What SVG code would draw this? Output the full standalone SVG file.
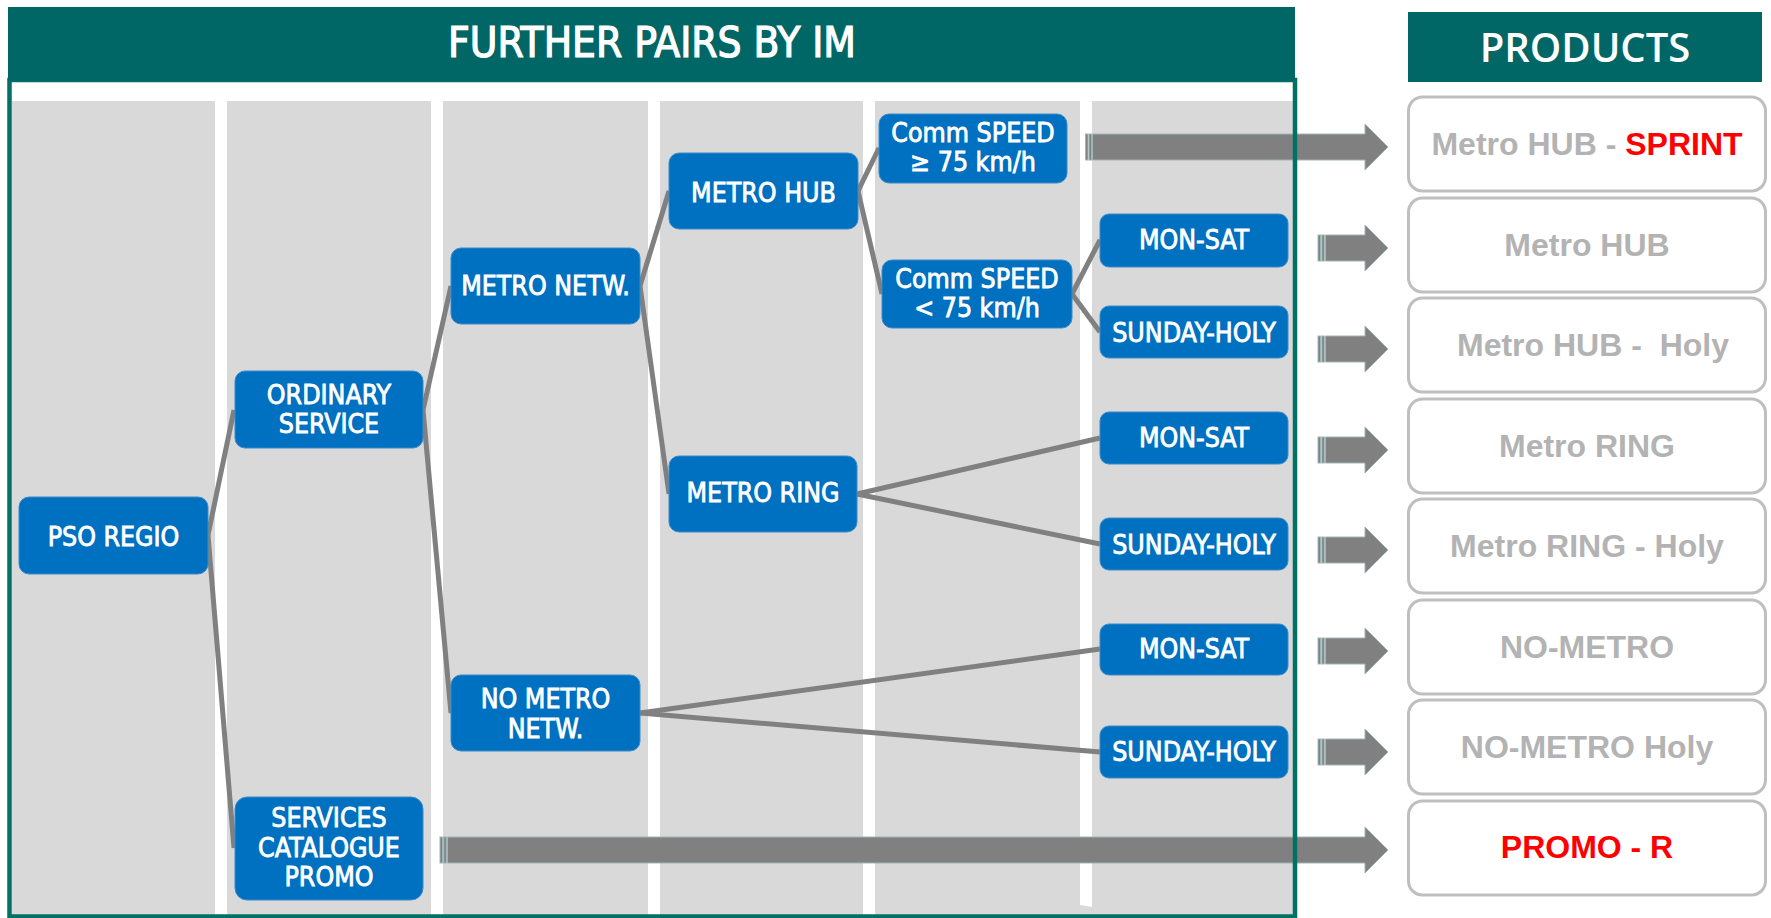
<svg xmlns="http://www.w3.org/2000/svg" xmlns:xlink="http://www.w3.org/1999/xlink" width="1771" height="918" viewBox="0 0 1771 918">
  <style>
    .col { fill: #d9d9d9; }
    .head { fill: #006666; }
    .headText { fill: #ffffff; text-anchor: middle; }
    .node rect { fill: #0070c0; stroke: #3a8ccc; stroke-width: 1; }
    .node text { fill: #ffffff; stroke: #ffffff; stroke-width: 0.8; font-family: "DejaVu Sans Condensed", "DejaVu Sans", sans-serif; font-stretch: condensed; font-size: 26.5px; text-anchor: middle; }
    .link { stroke: #808080; stroke-width: 5; fill: none; }
    .arrow { fill: #808080; stroke: #9fb6b6; stroke-width: 1; }
    .prod rect { fill: #ffffff; stroke: #bfbfbf; stroke-width: 3; }
    .prod text { fill: #b3b3b3; font-family: "Liberation Sans", Arial, sans-serif; font-weight: bold; font-size: 32px; text-anchor: middle; white-space: pre; }
    .prod .red { fill: #ff0000; }
  </style>
  <defs>
    <!-- short block arrow from the last column to a product box, centred on y=0 -->
    <g id="shortArrow">
      <rect class="arrow" x="1318" y="-13" width="2.5" height="26"/>
      <rect class="arrow" x="1321.8" y="-13" width="2.5" height="26"/>
      <path class="arrow" d="M1325.5,-13 H1365 V-23 L1388,0 L1365,23 V13 H1325.5 Z"/>
    </g>
  </defs>

  <rect width="1771" height="918" fill="#ffffff"/>

  <!-- level columns -->
  <g id="columns">
    <rect class="col" x="12" y="101" width="203" height="814"/>
    <rect class="col" x="227" y="101" width="204" height="814"/>
    <rect class="col" x="443" y="101" width="205" height="814"/>
    <rect class="col" x="660" y="101" width="203" height="814"/>
    <rect class="col" x="875" y="101" width="205" height="814"/>
    <rect class="col" x="1092" y="101" width="202" height="814"/>
    <polygon class="col" points="1080,905 1092,907 1092,915 1080,915"/>
  </g>

  <!-- long arrows -->
  <g id="longArrows">
    <rect class="arrow" x="1085.5" y="134" width="2.5" height="26"/>
    <rect class="arrow" x="1089" y="134" width="2.5" height="26"/>
    <path class="arrow" d="M1092.5,134 H1365 V124 L1388,147 L1365,170 V160 H1092.5 Z"/>
    <rect class="arrow" x="440" y="837" width="2.5" height="26"/>
    <rect class="arrow" x="443.8" y="837" width="2.5" height="26"/>
    <path class="arrow" d="M447.5,837 H1365 V827 L1388,850 L1365,873 V863 H447.5 Z"/>
  </g>

  <!-- frame and section headers -->
  <rect x="9.5" y="80" width="1285.5" height="836.5" fill="none" stroke="#007164" stroke-width="4.5"/>
  <g id="header-pairs">
    <rect class="head" x="8" y="7" width="1287" height="74"/>
    <text class="headText" x="652" y="57" font-family="'DejaVu Sans Condensed', 'DejaVu Sans', sans-serif" font-stretch="condensed" font-size="42" stroke="#ffffff" stroke-width="1.2">FURTHER PAIRS BY IM</text>
  </g>
  <g id="header-products">
    <rect class="head" x="1408" y="12" width="354" height="70"/>
    <text class="headText" x="1585" y="62" font-family="'Open Sans', sans-serif" font-weight="600" font-size="40">PRODUCTS</text>
  </g>

  <!-- tree connectors -->
  <g id="connectors">
    <line class="link" x1="208" y1="535" x2="234" y2="410"/>
    <line class="link" x1="208" y1="535" x2="234" y2="848"/>
    <line class="link" x1="423" y1="410" x2="451" y2="286"/>
    <line class="link" x1="423" y1="410" x2="451" y2="713"/>
    <line class="link" x1="640" y1="286" x2="669" y2="191"/>
    <line class="link" x1="640" y1="286" x2="669" y2="494"/>
    <line class="link" x1="858" y1="191" x2="879" y2="148"/>
    <line class="link" x1="858" y1="191" x2="882" y2="294"/>
    <line class="link" x1="1072" y1="294" x2="1100" y2="240"/>
    <line class="link" x1="1072" y1="294" x2="1100" y2="332"/>
    <line class="link" x1="857" y1="494" x2="1100" y2="438"/>
    <line class="link" x1="857" y1="494" x2="1100" y2="544"/>
    <line class="link" x1="640" y1="713" x2="1100" y2="649"/>
    <line class="link" x1="640" y1="713" x2="1100" y2="752"/>
  </g>

  <!-- tree nodes -->
  <g id="pso-regio" class="node">
    <rect x="19" y="497" width="189" height="77" rx="10"/>
    <text x="113.5" y="546">PSO REGIO</text>
  </g>
  <g id="ordinary-service" class="node">
    <rect x="235" y="371" width="188" height="77" rx="10"/>
    <text x="329" y="404">ORDINARY</text>
    <text x="329" y="433">SERVICE</text>
  </g>
  <g id="services-catalogue-promo" class="node">
    <rect x="235" y="797" width="188" height="103" rx="12"/>
    <text x="329" y="827">SERVICES</text>
    <text x="329" y="857">CATALOGUE</text>
    <text x="329" y="886">PROMO</text>
  </g>
  <g id="metro-netw" class="node">
    <rect x="451" y="248" width="189" height="76" rx="10"/>
    <text x="545.5" y="295">METRO NETW.</text>
  </g>
  <g id="no-metro-netw" class="node">
    <rect x="451" y="675" width="189" height="76" rx="10"/>
    <text x="545.5" y="708">NO METRO</text>
    <text x="545.5" y="738">NETW.</text>
  </g>
  <g id="metro-hub" class="node">
    <rect x="669" y="153" width="189" height="76" rx="10"/>
    <text x="763.5" y="202">METRO HUB</text>
  </g>
  <g id="metro-ring" class="node">
    <rect x="669" y="456" width="188" height="76" rx="10"/>
    <text x="763" y="502">METRO RING</text>
  </g>
  <g id="speed-high" class="node">
    <rect x="879" y="114" width="188" height="69" rx="10"/>
    <text x="973" y="142">Comm SPEED</text>
    <text x="973" y="171">≥ 75 km/h</text>
  </g>
  <g id="speed-low" class="node">
    <rect x="882" y="260" width="190" height="68" rx="10"/>
    <text x="977" y="288">Comm SPEED</text>
    <text x="977" y="317">&lt; 75 km/h</text>
  </g>
  <g id="hub-mon-sat" class="node">
    <rect x="1100" y="214" width="188" height="53" rx="9"/>
    <text x="1194" y="249">MON-SAT</text>
  </g>
  <g id="hub-sunday-holy" class="node">
    <rect x="1100" y="306" width="188" height="52" rx="9"/>
    <text x="1194" y="342">SUNDAY-HOLY</text>
  </g>
  <g id="ring-mon-sat" class="node">
    <rect x="1100" y="412" width="188" height="52" rx="9"/>
    <text x="1194" y="447">MON-SAT</text>
  </g>
  <g id="ring-sunday-holy" class="node">
    <rect x="1100" y="518" width="188" height="52" rx="9"/>
    <text x="1194" y="554">SUNDAY-HOLY</text>
  </g>
  <g id="nometro-mon-sat" class="node">
    <rect x="1100" y="624" width="188" height="51" rx="9"/>
    <text x="1194" y="658">MON-SAT</text>
  </g>
  <g id="nometro-sunday-holy" class="node">
    <rect x="1100" y="726" width="188" height="52" rx="9"/>
    <text x="1194" y="761">SUNDAY-HOLY</text>
  </g>

  <!-- short arrows into product boxes -->
  <g id="shortArrows">
    <use xlink:href="#shortArrow" href="#shortArrow" y="248"/>
    <use xlink:href="#shortArrow" href="#shortArrow" y="349"/>
    <use xlink:href="#shortArrow" href="#shortArrow" y="450"/>
    <use xlink:href="#shortArrow" href="#shortArrow" y="550"/>
    <use xlink:href="#shortArrow" href="#shortArrow" y="651"/>
    <use xlink:href="#shortArrow" href="#shortArrow" y="752"/>
  </g>

  <!-- product boxes -->
  <g id="prod-hub-sprint" class="prod">
    <rect x="1408.5" y="97" width="357" height="94" rx="14"/>
    <text x="1587" y="155">Metro HUB - <tspan class="red">SPRINT</tspan></text>
  </g>
  <g id="prod-hub" class="prod">
    <rect x="1408.5" y="198" width="357" height="94" rx="14"/>
    <text x="1587" y="256">Metro HUB</text>
  </g>
  <g id="prod-hub-holy" class="prod">
    <rect x="1408.5" y="298" width="357" height="94" rx="14"/>
    <text x="1593" y="356">Metro HUB -  Holy</text>
  </g>
  <g id="prod-ring" class="prod">
    <rect x="1408.5" y="399" width="357" height="94" rx="14"/>
    <text x="1587" y="457">Metro RING</text>
  </g>
  <g id="prod-ring-holy" class="prod">
    <rect x="1408.5" y="499" width="357" height="94" rx="14"/>
    <text x="1587" y="557">Metro RING - Holy</text>
  </g>
  <g id="prod-no-metro" class="prod">
    <rect x="1408.5" y="600" width="357" height="94" rx="14"/>
    <text x="1587" y="658">NO-METRO</text>
  </g>
  <g id="prod-no-metro-holy" class="prod">
    <rect x="1408.5" y="700" width="357" height="94" rx="14"/>
    <text x="1587" y="758">NO-METRO Holy</text>
  </g>
  <g id="prod-promo" class="prod">
    <rect x="1408.5" y="801" width="357" height="94" rx="14"/>
    <text class="red" x="1587" y="858">PROMO - R</text>
  </g>
</svg>
